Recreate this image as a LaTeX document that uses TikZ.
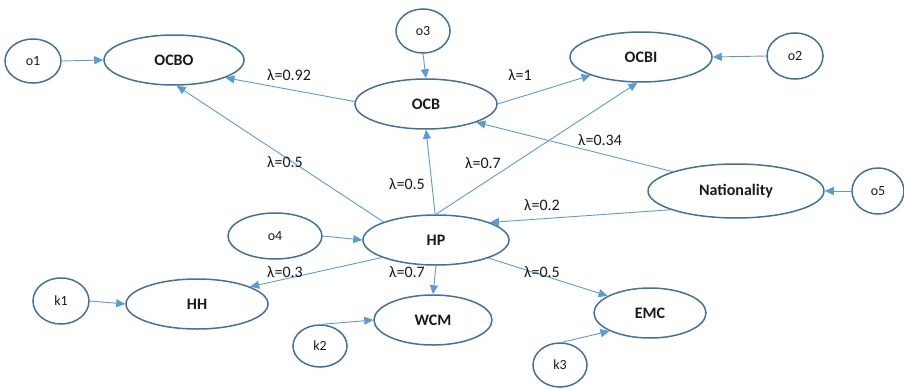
\documentclass[tikz,border=0pt]{standalone}
\usepackage{fontspec}
\setmainfont{Carlito}
\usetikzlibrary{shapes.geometric,arrows.meta}
\definecolor{rim}{HTML}{41719C}
\definecolor{link}{HTML}{5B9BD5}
\definecolor{ink}{HTML}{1A1A1A}
\tikzset{
  construct/.style={ellipse, draw=rim, line width=1.5pt, inner sep=0pt,
    text=ink, font=\fontsize{16}{18}\selectfont\bfseries},
  errterm/.style={ellipse, draw=rim, line width=1.5pt, inner sep=0pt,
    text=ink, font=\fontsize{14}{16}\selectfont},
  path/.style={draw=link, line width=0.9pt, -{Triangle[length=9pt,width=8pt]}},
  coef/.style={text=ink, font=\fontsize{16}{18}\selectfont, inner sep=0pt}
}
\begin{document}
\begin{tikzpicture}[x=1pt,y=-1pt]
\useasboundingbox (0,0) rectangle (904,388);
% latent constructs
\node[construct, minimum width=140pt, minimum height=50pt] (ocbo) at (174,60) {OCBO};
\node[construct, minimum width=142pt, minimum height=50pt] (ocb) at (426,104) {OCB};
\node[construct, minimum width=142pt, minimum height=50pt] (ocbi) at (641,57) {OCBI};
\node[construct, minimum width=176pt, minimum height=54pt] (nat) at (736,191) {Nationality};
\node[construct, minimum width=146pt, minimum height=50pt] (hp) at (436,240) {HP};
\node[construct, minimum width=142pt, minimum height=50pt] (hh) at (197,304) {HH};
\node[construct, minimum width=118pt, minimum height=50pt] (wcm) at (433,320) {WCM};
\node[construct, minimum width=112pt, minimum height=50pt] (emc) at (650,313) {EMC};
% error terms
\node[errterm, minimum width=56pt, minimum height=44pt] (o1) at (33,61) {o1};
\node[errterm, minimum width=54pt, minimum height=44pt] (o3) at (423,31) {o3};
\node[errterm, minimum width=56pt, minimum height=46pt] (o2) at (795,56) {o2};
\node[errterm, minimum width=52pt, minimum height=46pt] (o5) at (878,191) {o5};
\node[errterm, minimum width=94pt, minimum height=46pt] (o4) at (275,236) {o4};
\node[errterm, minimum width=56pt, minimum height=46pt] (k1) at (61,301) {k1};
\node[errterm, minimum width=54pt, minimum height=42pt] (k2) at (320,346) {k2};
\node[errterm, minimum width=54pt, minimum height=44pt] (k3) at (560,365) {k3};
% structural paths
\draw[path] (ocb.178) -- (ocbo.-19.5);
\draw[path] (hp.161) -- (ocbo.-84);
\draw[path] (ocb.0) -- (ocbi.-160.6);
\draw[path] (hp.90) -- (ocbi.-98);
\draw[path] (hp.92) -- (ocb.-90);
\draw[path] (nat.163.2) -- (ocb.-20.4);
\draw[path] (nat.-164) -- (hp.18.4);
\draw[path] (hp.198.4) -- (hh.18.4);
\draw[path] (hp.-90) -- (wcm.90);
\draw[path] (hp.-19) -- (emc.158);
% error paths
\draw[path] (o1.0) -- (ocbo.180);
\draw[path] (o3.-90) -- (ocb.90);
\draw[path] (o2.180) -- (ocbi.0);
\draw[path] (o5.180) -- (nat.0);
\draw[path] (o4.0) -- (hp.180);
\draw[path] (k1.0) -- (hh.180);
\draw[path] (k2.85) -- (wcm.180);
\draw[path] (k3.85) -- (emc.-156);
% coefficients
\node[coef] (l1) at (289,75) {λ=0.92};
\node[coef] (l2) at (285,162) {λ=0.5};
\node[coef] (l3) at (407,184) {λ=0.5};
\node[coef] (l4) at (520,75) {λ=1};
\node[coef] (l5) at (600,140) {λ=0.34};
\node[coef] (l6) at (483,163) {λ=0.7};
\node[coef] (l7) at (542,205) {λ=0.2};
\node[coef] (l8) at (285,272) {λ=0.3};
\node[coef] (l9) at (407,272) {λ=0.7};
\node[coef] (l10) at (542,272) {λ=0.5};
\end{tikzpicture}
\end{document}
